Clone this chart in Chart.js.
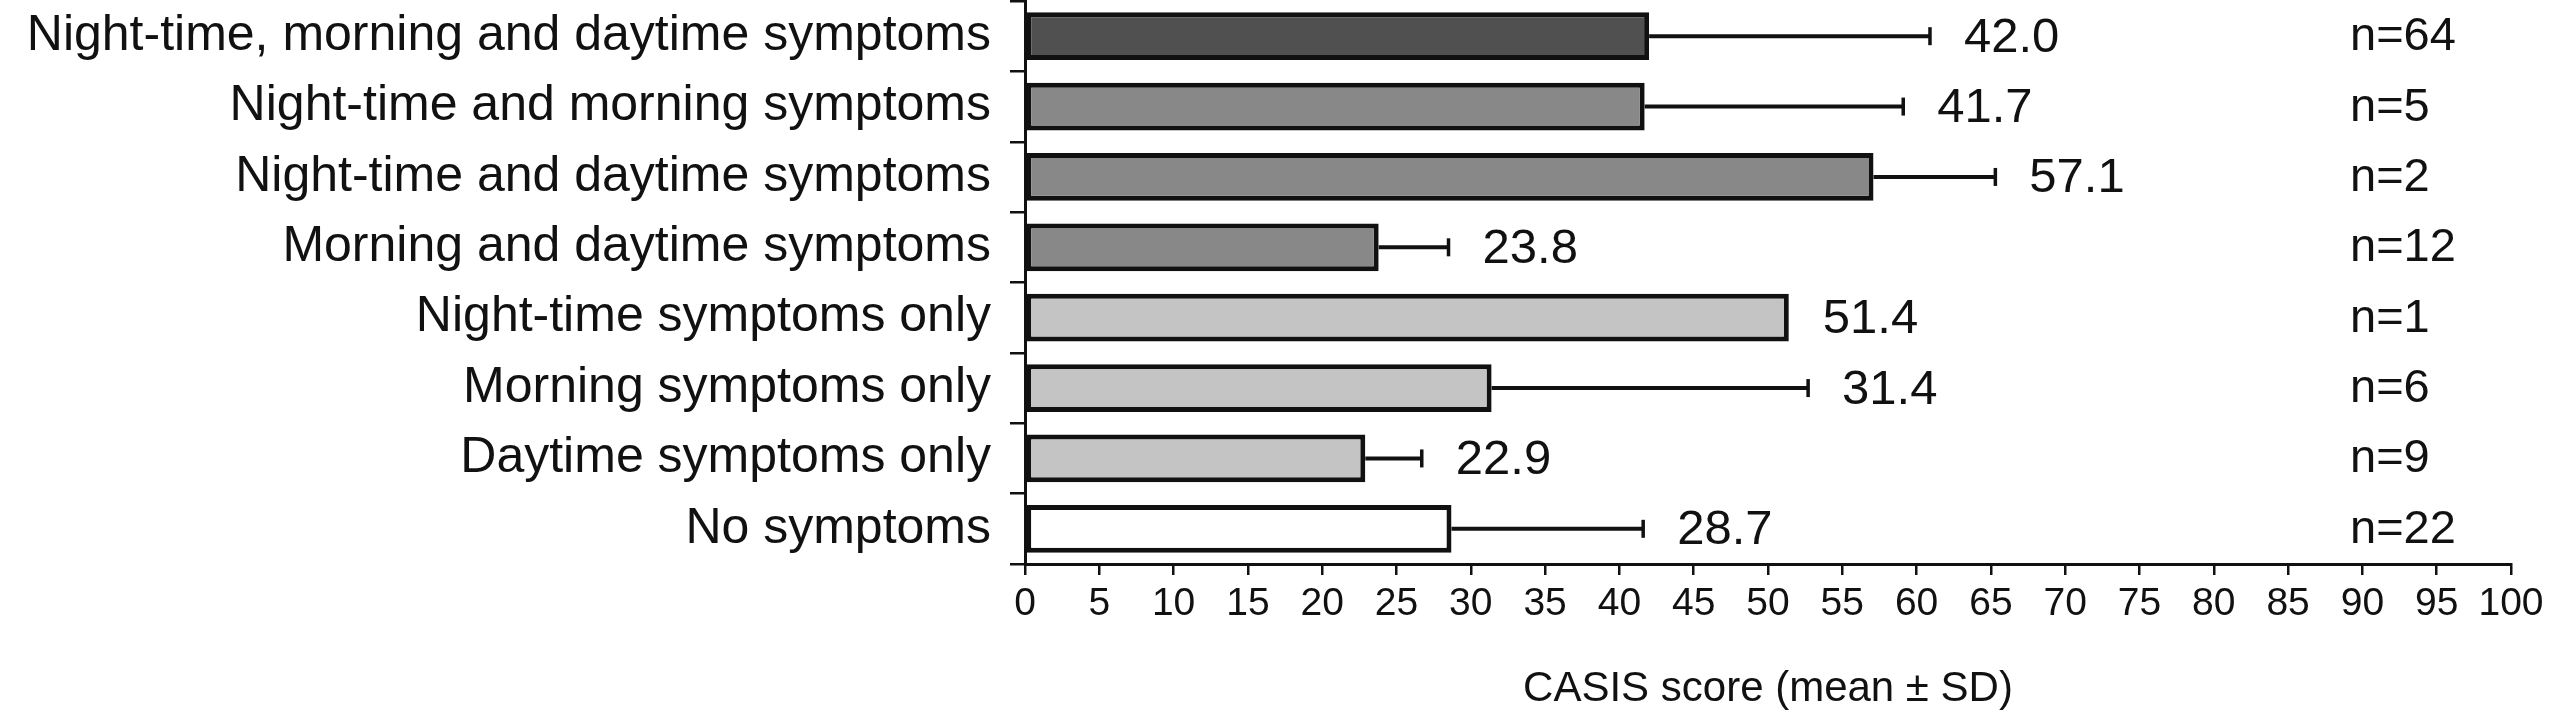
<!DOCTYPE html>
<html>
<head>
<meta charset="utf-8">
<script src="https://cdn.jsdelivr.net/npm/chart.js@4"></script>
<style>
  html, body { margin: 0; padding: 0; background: #fff; }
  canvas { display: block; }
</style>
</head>
<body>
<canvas id="casisChart" width="2551" height="721" style="width:2551px;height:721px"></canvas>
<script>
// Data
const categories = [
  "Night-time, morning and daytime symptoms",
  "Night-time and morning symptoms",
  "Night-time and daytime symptoms",
  "Morning and daytime symptoms",
  "Night-time symptoms only",
  "Morning symptoms only",
  "Daytime symptoms only",
  "No symptoms"
];
const means = [42.0, 41.7, 57.1, 23.8, 51.4, 31.4, 22.9, 28.7];
const sds = [18.9, 17.4, 8.2, 4.7, 0, 21.3, 3.8, 12.9];
const counts = [64, 5, 2, 12, 1, 6, 9, 22];

const barColors = ["#505050", "#888888", "#888888", "#888888", "#c4c4c4", "#c4c4c4", "#c4c4c4", "#ffffff"];
const FONT = "'Liberation Sans', Arial, Helvetica, sans-serif";

// Error bars, mean labels and n= labels
const annotations = {
  id: "annotations",
  afterDatasetsDraw(chart) {
    const ctx = chart.ctx;
    const xScale = chart.scales.x;
    const meta = chart.getDatasetMeta(0);
    ctx.save();
    meta.data.forEach(function (bar, i) {
      const y = bar.y;
      const xMean = xScale.getPixelForValue(means[i]);
      const xEnd = xScale.getPixelForValue(means[i] + sds[i]);

      if (sds[i] > 0) {
        ctx.strokeStyle = "#111";
        ctx.lineWidth = 4;
        ctx.beginPath();
        ctx.moveTo(xMean, y);
        ctx.lineTo(xEnd, y);
        ctx.stroke();
        ctx.lineWidth = 3.5;
        ctx.beginPath();
        ctx.moveTo(xEnd, y - 9);
        ctx.lineTo(xEnd, y + 9);
        ctx.stroke();
      }

      ctx.fillStyle = "#111";
      ctx.textBaseline = "middle";
      ctx.textAlign = "left";
      ctx.font = "49px " + FONT;
      ctx.fillText(means[i].toFixed(1), xEnd + 34, y + 2);

      ctx.font = "47px " + FONT;
      ctx.fillText("n=" + counts[i], chart.chartArea.right - 161, y + 1);
    });
    ctx.restore();
  }
};

new Chart(document.getElementById("casisChart"), {
  type: "bar",
  data: {
    labels: categories,
    datasets: [
      {
        data: means,
        backgroundColor: barColors,
        borderColor: "#111",
        borderWidth: 5,
        borderSkipped: false,
        barPercentage: 0.68,
        categoryPercentage: 1.0
      }
    ]
  },
  options: {
    indexAxis: "y",
    responsive: false,
    devicePixelRatio: 1,
    animation: false,
    layout: {
      padding: { top: 1, right: 40, left: 0, bottom: 0 }
    },
    plugins: {
      legend: { display: false },
      tooltip: { enabled: false },
      title: { display: false }
    },
    scales: {
      x: {
        type: "linear",
        min: 0,
        max: 100,
        afterFit: function (scale) {
          scale.height = 157;
        },
        ticks: {
          stepSize: 5,
          autoSkip: false,
          maxRotation: 0,
          padding: 6,
          color: "#111",
          font: { family: FONT, size: 39 }
        },
        grid: {
          drawOnChartArea: false,
          tickLength: 11,
          color: "#111",
          lineWidth: 2.5
        },
        border: { color: "#111", width: 3 },
        title: {
          display: true,
          text: "CASIS score (mean ± SD)",
          color: "#111",
          font: { family: FONT, size: 42 },
          padding: { top: 30, bottom: 6 }
        }
      },
      y: {
        afterFit: function (scale) {
          scale.width = 1025;
          scale.paddingTop = 0;
          scale.paddingBottom = 0;
        },
        ticks: {
          padding: 19,
          color: "#111",
          font: { family: FONT, size: 50 }
        },
        grid: {
          offset: true,
          drawOnChartArea: false,
          tickLength: 15,
          color: "#111",
          lineWidth: 2.5
        },
        border: { color: "#111", width: 3 }
      }
    }
  },
  plugins: [annotations]
});
</script>
</body>
</html>
